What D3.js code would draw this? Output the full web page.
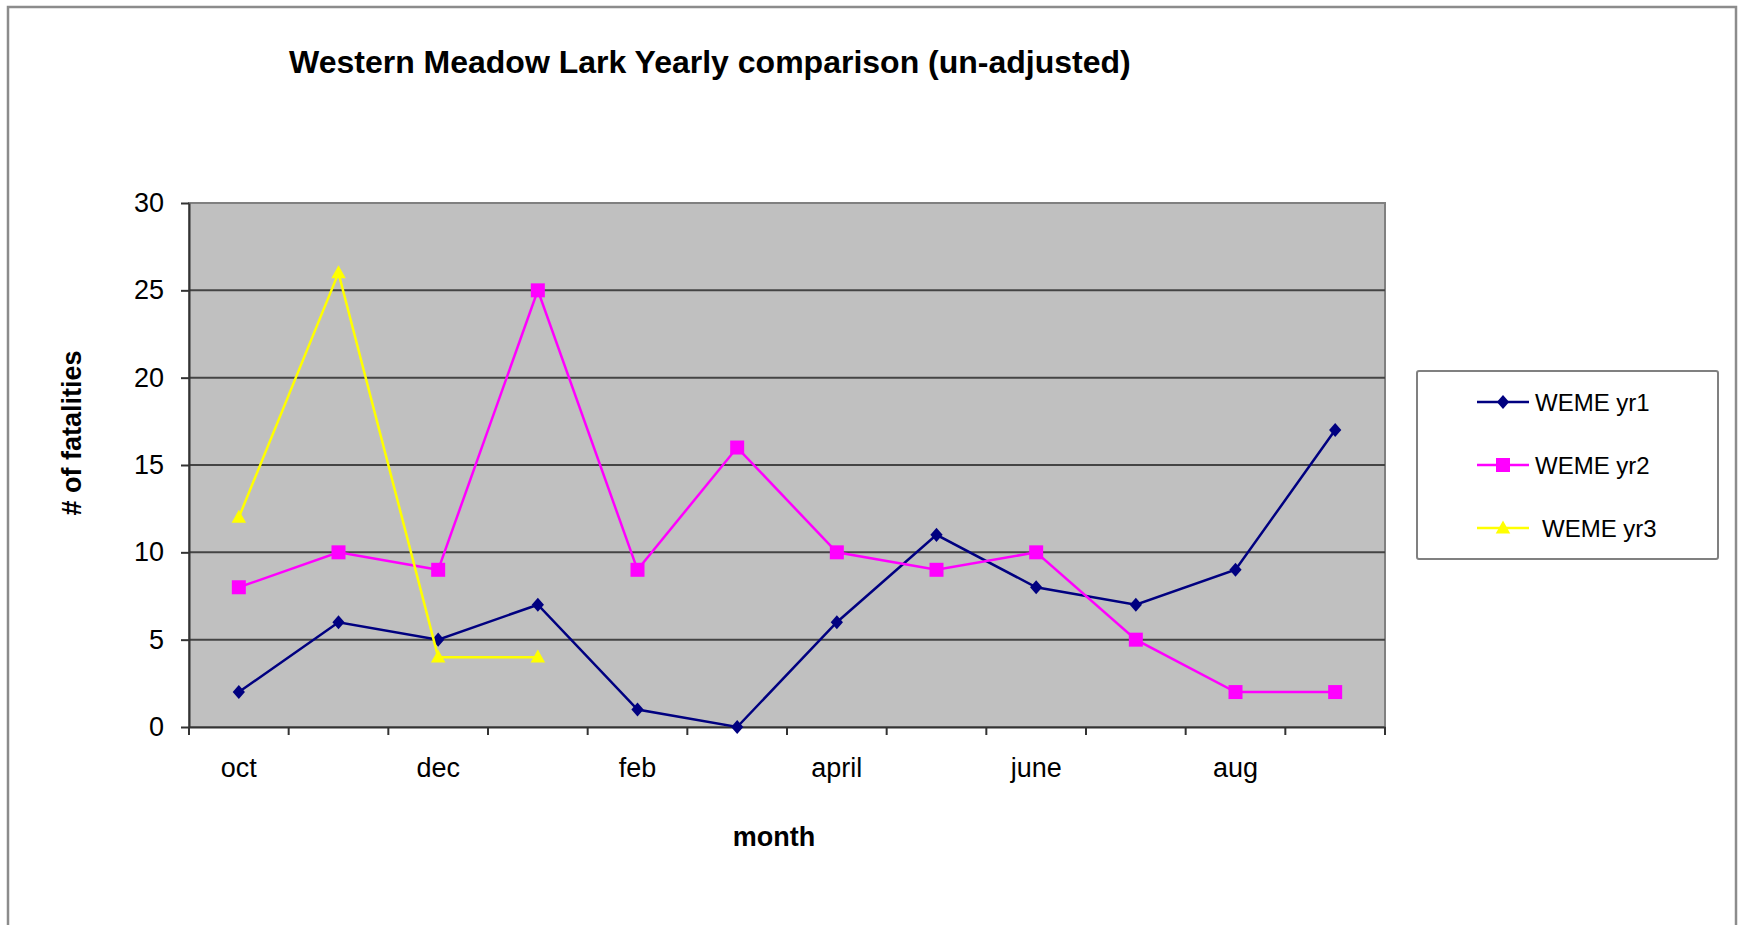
<!DOCTYPE html>
<html>
<head>
<meta charset="utf-8">
<script src="https://cdn.jsdelivr.net/npm/d3@7.9.0/dist/d3.min.js"></script>
<style>
  body { margin: 0; background: #fff; }
  svg text { font-family: "Liberation Sans", Arial, sans-serif; fill: #000; }
</style>
</head>
<body>
<svg id="chart" width="1741" height="925"></svg>
<script>
// chart data
const months = ["oct", "nov", "dec", "jan", "feb", "mar", "april", "may", "june", "july", "aug", "sep"];
const shownMonths = ["oct", "dec", "feb", "april", "june", "aug"];
const yTicks = [0, 5, 10, 15, 20, 25, 30];
const yr1 = [2, 6, 5, 7, 1, 0, 6, 11, 8, 7, 9, 17];
const yr2 = [8, 10, 9, 25, 9, 16, 10, 9, 10, 5, 2, 2];
const yr3 = [12, 26, 4, 4];
const seriesNames = ["WEME yr1", "WEME yr2", "WEME yr3"];
const seriesColors = ["#000080", "#ff00ff", "#ffff00"];

const svg = d3.select("#chart");
const plot = { left: 189, right: 1385, top: 203, bottom: 727 };

// diamond / square / triangle like the old office markers
const diamond = { draw(ctx, size) { const r = Math.sqrt(size) / 2; ctx.moveTo(0, -r * 1.15); ctx.lineTo(r, 0); ctx.lineTo(0, r * 1.15); ctx.lineTo(-r, 0); ctx.closePath(); } };
const square = { draw(ctx, size) { const r = Math.sqrt(size) / 2; ctx.rect(-r, -r, 2 * r, 2 * r); } };
const triangle = { draw(ctx, size) { const r = Math.sqrt(size) / 2; ctx.moveTo(0, -r * 1.05); ctx.lineTo(r, r * 0.75); ctx.lineTo(-r, r * 0.75); ctx.closePath(); } };
const symbols = [d3.symbol(diamond, 150), d3.symbol(square, 196), d3.symbol(triangle, 210)];

const series = [yr1, yr2, yr3].map((vals, i) => ({
  name: seriesNames[i],
  color: seriesColors[i],
  symbol: symbols[i],
  points: vals.map((v, j) => ({ month: months[j], value: v }))
}));

// outer frame
svg.append("rect")
  .attr("x", 8).attr("y", 7).attr("width", 1728).attr("height", 940)
  .attr("fill", "#fff").attr("stroke", "#8c8c8c").attr("stroke-width", 2.5);

svg.append("text")
  .attr("x", 289).attr("y", 73)
  .attr("font-size", 32).attr("font-weight", "bold")
  .text("Western Meadow Lark Yearly comparison (un-adjusted)");

const x = d3.scaleBand().domain(months).range([plot.left, plot.right]);
const y = d3.scaleLinear().domain([0, 30]).range([plot.bottom, plot.top]);

// plot area
svg.append("rect")
  .attr("x", plot.left).attr("y", plot.top)
  .attr("width", plot.right - plot.left).attr("height", plot.bottom - plot.top)
  .attr("fill", "#c0c0c0").attr("stroke", "#808080").attr("stroke-width", 2);

svg.append("g").selectAll("line")
  .data(yTicks.filter(t => t > 0 && t < 30))
  .enter().append("line")
  .attr("x1", plot.left).attr("x2", plot.right)
  .attr("y1", d => y(d)).attr("y2", d => y(d))
  .attr("stroke", "#444").attr("stroke-width", 2);

// y axis
const yAxis = svg.append("g")
  .attr("transform", `translate(${plot.left},0)`)
  .call(d3.axisLeft(y).tickValues(yTicks).tickSize(8).tickPadding(17).tickSizeOuter(0));
yAxis.select(".domain").attr("stroke", "#333").attr("stroke-width", 2);
yAxis.selectAll(".tick line").attr("stroke", "#333").attr("stroke-width", 2);
yAxis.selectAll("text").attr("font-size", 27).attr("font-family", "Liberation Sans, Arial, sans-serif").attr("fill", "#000");

// x axis: labels at category centres, ticks between categories
const xAxis = svg.append("g")
  .attr("transform", `translate(0,${plot.bottom})`)
  .call(d3.axisBottom(x).tickSize(0).tickPadding(31)
    .tickFormat(d => shownMonths.includes(d) ? d : ""));
xAxis.select(".domain").attr("stroke", "#333").attr("stroke-width", 2);
xAxis.selectAll("text").attr("font-size", 27).attr("font-family", "Liberation Sans, Arial, sans-serif").attr("fill", "#000");

svg.append("g").selectAll("line")
  .data(months.map(m => x(m)).concat([plot.right]))
  .enter().append("line")
  .attr("x1", d => d).attr("x2", d => d)
  .attr("y1", plot.bottom).attr("y2", plot.bottom + 8)
  .attr("stroke", "#333").attr("stroke-width", 2);

// axis titles
svg.append("text")
  .attr("x", 774).attr("y", 846)
  .attr("text-anchor", "middle").attr("font-size", 27).attr("font-weight", "bold")
  .text("month");

svg.append("text")
  .attr("transform", "translate(81,433) rotate(-90)")
  .attr("text-anchor", "middle").attr("font-size", 27).attr("font-weight", "bold")
  .text("# of fatalities");

// lines and markers
const line = d3.line()
  .x(d => x(d.month) + x.bandwidth() / 2)
  .y(d => y(d.value));

series.forEach(s => {
  svg.append("path")
    .datum(s.points)
    .attr("d", line)
    .attr("fill", "none").attr("stroke", s.color).attr("stroke-width", 2.5);

  svg.append("g").selectAll("path")
    .data(s.points)
    .enter().append("path")
    .attr("transform", d => `translate(${x(d.month) + x.bandwidth() / 2},${y(d.value)})`)
    .attr("d", s.symbol())
    .attr("fill", s.color);
});

// legend
const legend = svg.append("g");
legend.append("rect")
  .attr("x", 1417).attr("y", 371).attr("width", 301).attr("height", 188).attr("rx", 2)
  .attr("fill", "#fff").attr("stroke", "#808080").attr("stroke-width", 2);

const rowY = d3.scalePoint().domain(seriesNames).range([402, 528]);
const rows = legend.selectAll("g.item")
  .data(series)
  .enter().append("g")
  .attr("class", "item")
  .attr("transform", d => `translate(0,${rowY(d.name)})`);

rows.append("line")
  .attr("x1", 1477).attr("x2", 1529)
  .attr("stroke", d => d.color).attr("stroke-width", 2.5);
rows.append("path")
  .attr("transform", "translate(1503,0)")
  .attr("d", d => d.symbol())
  .attr("fill", d => d.color);
rows.append("text")
  .attr("x", (d, i) => i === 2 ? 1542 : 1535).attr("y", 9)
  .attr("font-size", 24)
  .text(d => d.name);
</script>
</body>
</html>
